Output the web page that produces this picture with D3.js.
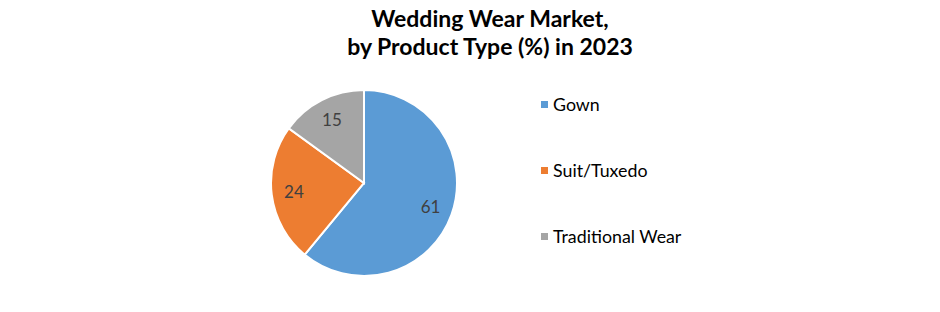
<!DOCTYPE html>
<html>
<head>
<meta charset="utf-8">
<script src="https://cdn.jsdelivr.net/npm/d3@7"></script>
<style>
  body { margin: 0; background: #fff; }
  svg { display: block; font-family: Lato, 'Open Sans', sans-serif; }
</style>
</head>
<body>
<div id="chart"></div>
<script>
const categories = ['Gown', 'Suit/Tuxedo', 'Traditional Wear'];
const values = [61, 24, 15];
const colors = ['#5B9BD5', '#ED7D31', '#A5A5A5'];
const titleLines = ['Wedding Wear Market,', 'by Product Type (%) in 2023'];

const width = 940, height = 312;
const cx = 364, cy = 183, radius = 93;

const svg = d3.select('#chart').append('svg')
  .attr('width', width)
  .attr('height', height);

svg.append('text')
  .attr('x', 490)
  .attr('y', 27)
  .attr('text-anchor', 'middle')
  .selectAll('tspan')
  .data(titleLines)
  .enter()
    .append('tspan')
    .attr('x', 490)
    .attr('dy', (d, i) => i === 0 ? 0 : 28)
    .style('font-size', '23px')
    .style('font-weight', 'bold')
    .style('fill', '#000')
    .text(d => d);

const data = categories.map((c, i) => ({ name: c, value: values[i], color: colors[i] }));

const pie = d3.pie()
  .sort(null)
  .value(d => d.value);

const arc = d3.arc()
  .innerRadius(0)
  .outerRadius(radius);

const labelArc = d3.arc()
  .innerRadius(radius * 0.76)
  .outerRadius(radius * 0.76);

const g = svg.append('g')
  .attr('transform', 'translate(' + cx + ',' + cy + ')');

const arcs = pie(data);

g.selectAll('.slice').data(arcs)
  .enter()
    .append('path')
    .attr('class', 'slice')
    .attr('d', arc)
    .attr('fill', d => d.data.color)
    .attr('stroke', '#fff')
    .attr('stroke-width', 2);

g.selectAll('.label').data(arcs)
  .enter()
    .append('text')
    .attr('class', 'label')
    .attr('transform', d => 'translate(' + labelArc.centroid(d) + ')')
    .attr('text-anchor', 'middle')
    .attr('dy', '0.35em')
    .style('font-size', '17px')
    .style('fill', '#404040')
    .text(d => d.data.value);

const legend = svg.append('g')
  .attr('transform', 'translate(541,105)');

const items = legend.selectAll('.item').data(data)
  .enter()
    .append('g')
    .attr('class', 'item')
    .attr('transform', (d, i) => 'translate(0,' + (i * 66) + ')');

items.append('rect')
  .attr('x', 0)
  .attr('y', -4)
  .attr('width', 7)
  .attr('height', 7)
  .attr('fill', d => d.color);

items.append('text')
  .attr('x', 12)
  .attr('dy', '0.35em')
  .style('font-size', '17.8px')
  .style('fill', '#000')
  .text(d => d.name);
</script>
</body>
</html>
